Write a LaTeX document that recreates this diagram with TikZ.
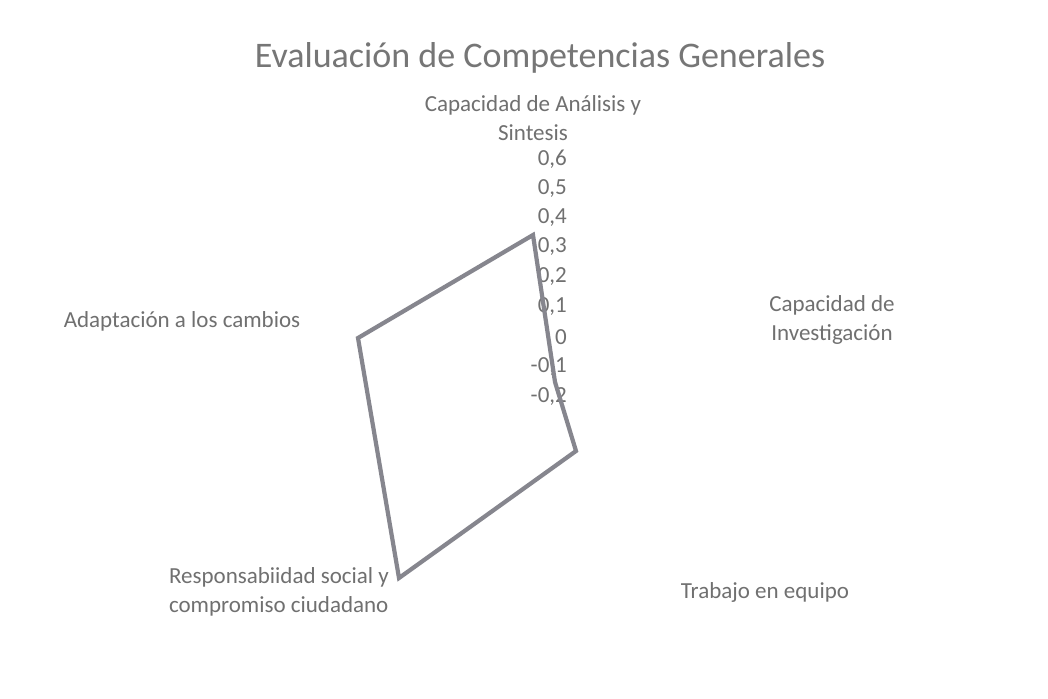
\documentclass[tikz,border=0pt]{standalone}
\usepackage{fontspec}
\setmainfont{Carlito}
\definecolor{txt}{RGB}{112,112,112}
\definecolor{ttl}{RGB}{118,118,118}
\definecolor{poly}{RGB}{134,134,142}
\begin{document}
\begin{tikzpicture}[x=1pt,y=-1pt,
  lbl/.style={text=txt,font=\fontsize{23}{29}\selectfont,inner sep=0pt,align=center},
  tick/.style={text=txt,font=\fontsize{23}{26}\selectfont,inner sep=0pt,anchor=east},
  series/.style={draw=poly,line width=4.2pt,line join=miter}]
\useasboundingbox[fill=white] (0,0) rectangle (1048,698);
\node[text=ttl,font=\fontsize{36}{40}\selectfont,inner sep=0pt] (title) at (540,58) {Evaluación de Competencias Generales};
\node[lbl] (a1) at (533,118) {Capacidad de Análisis y\\Sintesis};
\node[lbl] (a2) at (832,320) {Capacidad de\\Investigación};
\node[lbl] (a3) at (765,592) {Trabajo en equipo};
\node[lbl,align=left] (a4) at (279,592) {Responsabiidad social y\\compromiso ciudadano};
\node[lbl] (a5) at (182,321) {Adaptación a los cambios};
\node[tick] (t6) at (567,159) {0,6};
\node[tick] (t5) at (567,189) {0,5};
\node[tick] (t4) at (567,218) {0,4};
\node[tick] (t3) at (567,247) {0,3};
\node[tick] (t2) at (567,277) {0,2};
\node[tick] (t1) at (567,307) {0,1};
\node[tick] (t0) at (567,337) {0};
\node[tick] (tm1) at (567,367) {-0,1};
\node[tick] (tm2) at (567,397) {-0,2};
\coordinate (p1) at (533,235);
\coordinate (p2) at (555,382);
\coordinate (p3) at (576,451);
\coordinate (p4) at (399,578);
\coordinate (p5) at (358,338);
\draw[series] (p1) -- (p2) -- (p3) -- (p4) -- (p5) -- cycle;
\end{tikzpicture}
\end{document}
